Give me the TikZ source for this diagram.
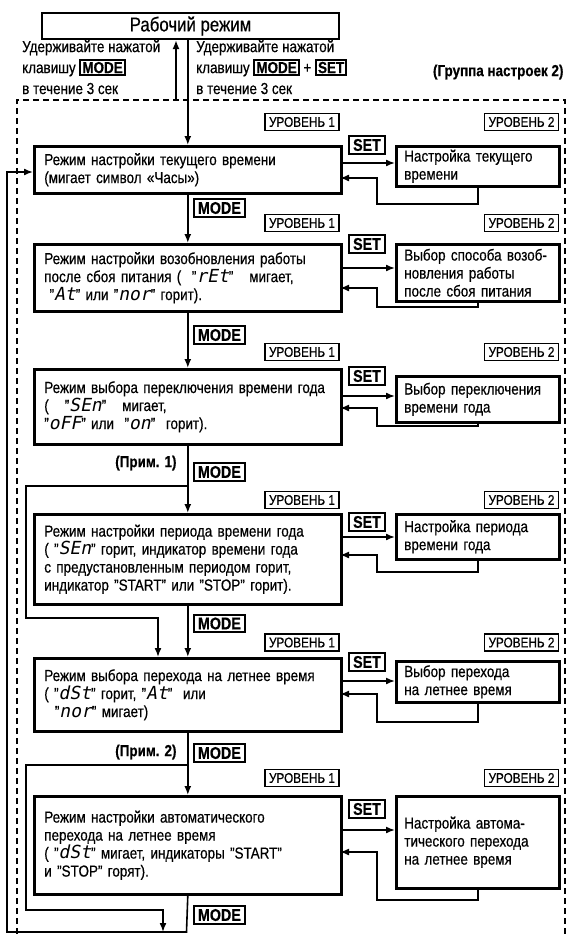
\documentclass[tikz,border=0pt]{standalone}
\usepackage{fontspec}
\setmainfont[FakeStretch=0.84,FakeBold=0.5]{Liberation Sans}
\newfontfamily\segfont[FakeSlant=0.2]{DejaVu Sans Mono}
\usetikzlibrary{arrows.meta}

\newcommand{\seg}[1]{{\segfont\fontsize{18}{18}\selectfont #1}}
\newcommand{\keycap}[1]{{\setlength{\fboxrule}{1.8pt}\setlength{\fboxsep}{1.2pt}\fbox{\bfseries\fontsize{16}{16}\selectfont #1}}}

\begin{document}
\begin{tikzpicture}[x=1pt,y=-1pt,
  mainbox/.style={draw, line width=2.6pt, anchor=north west, minimum width=307pt,
    text width=287pt, align=left, inner xsep=10pt, font=\fontsize{16}{18}\selectfont},
  sidebox/.style={draw, line width=2.6pt, anchor=north west, minimum width=163pt,
    text width=147pt, align=left, inner xsep=8pt, font=\fontsize{16}{18}\selectfont},
  lvlbox/.style={draw, line width=1.3pt, minimum width=74pt, minimum height=17pt,
    inner sep=1pt, font=\fontsize{14}{14}\selectfont},
  keybox/.style={draw, line width=2pt, inner xsep=4pt, inner ysep=2.5pt,
    font=\bfseries\fontsize{17}{17}\selectfont},
  note/.style={font=\bfseries\fontsize{16}{16}\selectfont},
  arr/.style={line width=1.6pt, -{Latex[length=9pt,width=7pt]}}]
\useasboundingbox (0,0) rectangle (569,934);

% start and the group frame
\node[draw, line width=2.2pt, minimum width=297pt, minimum height=26pt,
  font=\fontsize{20}{20}\selectfont] (work) at (190.5,26) {Рабочий режим};
\node[anchor=north west, align=left, inner sep=0pt, font=\fontsize{16}{21}\selectfont]
  (holdA) at (22,40) {Удерживайте нажатой\\клавишу \keycap{MODE}\\в течение 3 сек};
\node[anchor=north west, align=left, inner sep=0pt, font=\fontsize{16}{21}\selectfont]
  (holdB) at (196,40) {Удерживайте нажатой\\клавишу \keycap{MODE} + \keycap{SET}\\в течение 3 сек};
\node[note, anchor=east] (grp) at (567,72) {(Группа настроек 2)};
\draw[line width=1.3pt, dash pattern=on 6pt off 4pt] (17,934) -- (17,100) -- (565,100) -- (565,934);

% level 1 column
\node[mainbox, minimum height=47pt] (m1) at (33,145)
  {Режим настройки текущего времени\\(мигает символ «Часы»)};
\node[mainbox, minimum height=67pt] (m2) at (33,243)
  {Режим настройки возобновления работы\\после сбоя питания (\ \ "\seg{rEt}"\ \ \ мигает,\\
   \ "\seg{At}" или "\seg{nor}" горит).};
\node[mainbox, minimum height=75pt] (m3) at (33,368)
  {Режим выбора переключения времени года\\(\ \ \ "\seg{SEn}"\ \ \ мигает,\\
   "\seg{oFF}" или\ \ "\seg{on}"\ \ горит).};
\node[mainbox, minimum height=90pt] (m4) at (33,513)
  {Режим настройки периода времени года\\( "\seg{SEn}" горит, индикатор времени года\\
   с предустановленным периодом горит,\\индикатор "START" или "STOP" горит).};
\node[mainbox, minimum height=73pt] (m5) at (33,657)
  {Режим выбора перехода на летнее время\\( "\seg{dSt}" горит, "\seg{At}"\ \ или\\
   \ \ "\seg{nor}" мигает)};
\node[mainbox, minimum height=98pt] (m6) at (33,795)
  {Режим настройки автоматического\\перехода на летнее время\\
   ( "\seg{dSt}" мигает, индикаторы "START"\\и "STOP" горят).};

% level 2 column
\node[sidebox, minimum height=40pt] (s1) at (395,145) {Настройка текущего\\времени};
\node[sidebox, minimum height=57pt] (s2) at (395,243)
  {Выбор способа возоб-\\новления работы\\после сбоя питания};
\node[sidebox, minimum height=46pt] (s3) at (395,375) {Выбор переключения\\времени года};
\node[sidebox, minimum height=45pt] (s4) at (395,513) {Настройка периода\\времени года};
\node[sidebox, minimum height=41pt] (s5) at (395,660) {Выбор перехода\\на летнее время};
\node[sidebox, minimum height=92pt] (s6) at (395,795)
  {Настройка автома-\\тического перехода\\на летнее время};

% level tags
\node[lvlbox] (la1) at (302,122) {УРОВЕНЬ 1};
\node[lvlbox] (lb1) at (521.5,122) {УРОВЕНЬ 2};
\node[lvlbox] (la2) at (302,223) {УРОВЕНЬ 1};
\node[lvlbox] (lb2) at (521.5,223) {УРОВЕНЬ 2};
\node[lvlbox] (la3) at (302,352) {УРОВЕНЬ 1};
\node[lvlbox] (lb3) at (521.5,352) {УРОВЕНЬ 2};
\node[lvlbox] (la4) at (302,500) {УРОВЕНЬ 1};
\node[lvlbox] (lb4) at (521.5,500) {УРОВЕНЬ 2};
\node[lvlbox] (la5) at (302,642.5) {УРОВЕНЬ 1};
\node[lvlbox] (lb5) at (521.5,642.5) {УРОВЕНЬ 2};
\node[lvlbox] (la6) at (302,778) {УРОВЕНЬ 1};
\node[lvlbox] (lb6) at (521.5,778) {УРОВЕНЬ 2};

% keys
\node[keybox] (set1) at (367,145) {SET};
\node[keybox] (set2) at (367,244) {SET};
\node[keybox] (set3) at (367,376) {SET};
\node[keybox] (set4) at (367,522) {SET};
\node[keybox] (set5) at (367,662) {SET};
\node[keybox] (set6) at (367,809) {SET};
\node[keybox, anchor=west] (mode1) at (193,208) {MODE};
\node[keybox, anchor=west] (mode2) at (193,335) {MODE};
\node[keybox, anchor=west] (mode3) at (193,472) {MODE};
\node[keybox, anchor=west] (mode4) at (193,623.5) {MODE};
\node[keybox, anchor=west] (mode5) at (193,753) {MODE};
\node[keybox, anchor=west] (mode6) at (193,915) {MODE};
\node[note, anchor=east] (note1) at (180,463) {(Прим. 1)};
\node[note, anchor=east] (note2) at (180,752) {(Прим. 2)};

% turning points
\coordinate (back) at (176,100);
\coordinate (p1) at (186.5,486);
\coordinate (p2) at (186.5,765);
\coordinate (l1a) at (26,486);
\coordinate (l1b) at (26,618);
\coordinate (l1c) at (158,618);
\coordinate (l2a) at (26,765);
\coordinate (l2b) at (26,910);
\coordinate (l2c) at (163,910);
\coordinate (r0) at (186.5,932);
\coordinate (r1) at (7,932);
\coordinate (r2) at (7,172);
\coordinate (o1) at (340,163);
\coordinate (i1) at (340,178);
\coordinate (b1) at (377,204);
\coordinate (o2) at (340,268);
\coordinate (i2) at (340,288);
\coordinate (b2) at (377,307);
\coordinate (o3) at (340,396);
\coordinate (i3) at (340,408);
\coordinate (b3) at (377,426);
\coordinate (o4) at (340,537);
\coordinate (i4) at (340,555);
\coordinate (b4) at (377,572);
\coordinate (o5) at (340,681);
\coordinate (i5) at (340,694);
\coordinate (b5) at (377,722);
\coordinate (o6) at (340,830);
\coordinate (i6) at (340,852);
\coordinate (b6) at (377,900);

% MODE path
\draw[arr] (back) -- (back |- work.south);
\draw[arr] (work.south -| m1.north) -- (m1.north);
\draw[arr] (m1.south) -- (m2.north);
\draw[arr] (m2.south) -- (m3.north);
\draw[arr] (m3.south) -- (m4.north);
\draw[arr] (m4.south) -- (m5.north);
\draw[arr] (m5.south) -- (m6.north);
\draw[arr] (p1) -- (l1a) -- (l1b) -- (l1c) -- (l1c |- m5.north);
\draw[arr] (p2) -- (l2a) -- (l2b) -- (l2c) -- (l2c |- r0);
\draw[arr] (m6.south) -- (r0) -- (r1) -- (r2) -- (r2 -| m1.west);

% SET path
\draw[arr] (o1) -- (o1 -| s1.west);
\draw[arr] (s1.south) |- (b1) |- (i1);
\draw[arr] (o2) -- (o2 -| s2.west);
\draw[arr] (s2.south) |- (b2) |- (i2);
\draw[arr] (o3) -- (o3 -| s3.west);
\draw[arr] (s3.south) |- (b3) |- (i3);
\draw[arr] (o4) -- (o4 -| s4.west);
\draw[arr] (s4.south) |- (b4) |- (i4);
\draw[arr] (o5) -- (o5 -| s5.west);
\draw[arr] (s5.south) |- (b5) |- (i5);
\draw[arr] (o6) -- (o6 -| s6.west);
\draw[arr] (s6.south) |- (b6) |- (i6);
\end{tikzpicture}
\end{document}
